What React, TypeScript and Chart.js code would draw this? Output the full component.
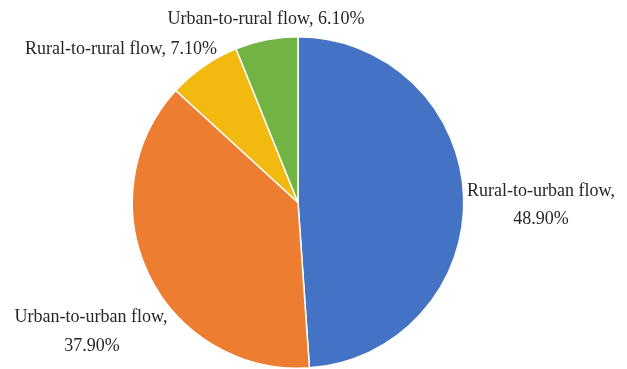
import React, { useEffect, useRef } from "react";
import { Chart, registerables } from "chart.js";

Chart.register(...registerables);

// Share of migration flows by type
const categories = [
  "Rural-to-urban flow",
  "Urban-to-urban flow",
  "Rural-to-rural flow",
  "Urban-to-rural flow",
];
const shares = [48.9, 37.9, 7.1, 6.1];
const sliceColors = ["#4472C4", "#ED7D31", "#F2B90F", "#72B443"];

// Label placement around the pie, in pixels from the pie centre.
// Each entry lists the lines of a label and where each line sits.
const labelLayout = [
  { lines: [{ dx: 243, dy: -11 }, { dx: 243, dy: 17 }], split: true },
  { lines: [{ dx: -207, dy: 115 }, { dx: -206, dy: 144 }], split: true },
  { lines: [{ dx: -177, dy: -153 }], split: false },
  { lines: [{ dx: -32, dy: -183 }], split: false },
];

const pieLabels = {
  id: "pieLabels",
  afterDraw(chart: any) {
    const meta = chart.getDatasetMeta(0);
    const arc = meta.data[0];
    if (!arc) return;
    const { x: cx, y: cy } = arc.getProps(["x", "y"], true);
    const ctx = chart.ctx;
    ctx.save();
    ctx.font = '18px "Liberation Serif", "Times New Roman", serif';
    ctx.fillStyle = "#262626";
    ctx.textAlign = "center";
    ctx.textBaseline = "middle";
    categories.forEach((name, i) => {
      const value = shares[i].toFixed(2) + "%";
      const layout = labelLayout[i];
      const texts = layout.split ? [name + ",", value] : [name + ", " + value];
      texts.forEach((t, j) => {
        const p = layout.lines[j];
        ctx.fillText(t, cx + p.dx, cy + p.dy);
      });
    });
    ctx.restore();
  },
};

export default function App() {
  const canvasRef = useRef<HTMLCanvasElement | null>(null);

  useEffect(() => {
    document.body.style.margin = "0";
    const canvas = canvasRef.current;
    if (!canvas) return;
    const chart = new Chart(canvas, {
      type: "pie",
      data: {
        labels: categories,
        datasets: [
          {
            data: shares,
            backgroundColor: sliceColors,
            borderColor: "#FFFFFF",
            borderWidth: 1.5,
          },
        ],
      },
      options: {
        animation: false,
        responsive: false,
        maintainAspectRatio: false,
        layout: { padding: { left: 130, right: 161, top: 36, bottom: 0 } },
        plugins: {
          legend: { display: false },
          tooltip: { enabled: false },
          title: { display: false },
        },
      },
      plugins: [pieLabels],
    });
    return () => chart.destroy();
  }, []);

  return (
    <div style={{ position: "absolute", left: 0, top: 0, width: 627, height: 369, background: "#fff" }}>
      <canvas ref={canvasRef} width={627} height={369} style={{ width: 627, height: 369, display: "block" }} />
    </div>
  );
}
